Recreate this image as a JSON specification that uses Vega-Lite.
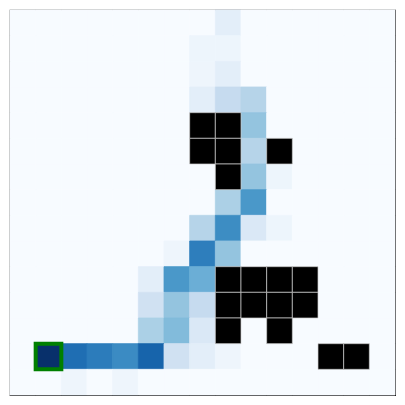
{
  "$schema": "https://vega.github.io/schema/vega-lite/v6.json",
  "width": 385,
  "height": 385,
  "autosize": "none",
  "padding": {"left": 10, "top": 10, "right": 10, "bottom": 10},
  "background": "white",
  "config": {"view": {"stroke": "black", "strokeWidth": 1.2, "fill": "#f7fbff"}},
  "data": {"values": [
    {"r":0,"c":0,"v":0,"k":"f"},{"r":0,"c":1,"v":0,"k":"f"},{"r":0,"c":2,"v":0,"k":"f"},{"r":0,"c":3,"v":0,"k":"f"},{"r":0,"c":4,"v":0,"k":"f"},{"r":0,"c":5,"v":0,"k":"f"},{"r":0,"c":6,"v":0,"k":"f"},{"r":0,"c":7,"v":0,"k":"f"},{"r":0,"c":8,"v":0.1,"k":"f"},{"r":0,"c":9,"v":0,"k":"f"},{"r":0,"c":10,"v":0,"k":"f"},{"r":0,"c":11,"v":0,"k":"f"},{"r":0,"c":12,"v":0,"k":"f"},{"r":0,"c":13,"v":0,"k":"f"},{"r":0,"c":14,"v":0,"k":"f"},
    {"r":1,"c":0,"v":0,"k":"f"},{"r":1,"c":1,"v":0,"k":"f"},{"r":1,"c":2,"v":0,"k":"f"},{"r":1,"c":3,"v":0,"k":"f"},{"r":1,"c":4,"v":0,"k":"f"},{"r":1,"c":5,"v":0,"k":"f"},{"r":1,"c":6,"v":0,"k":"f"},{"r":1,"c":7,"v":0.05,"k":"f"},{"r":1,"c":8,"v":0.05,"k":"f"},{"r":1,"c":9,"v":0,"k":"f"},{"r":1,"c":10,"v":0,"k":"f"},{"r":1,"c":11,"v":0,"k":"f"},{"r":1,"c":12,"v":0,"k":"f"},{"r":1,"c":13,"v":0,"k":"f"},{"r":1,"c":14,"v":0,"k":"f"},
    {"r":2,"c":0,"v":0,"k":"f"},{"r":2,"c":1,"v":0,"k":"f"},{"r":2,"c":2,"v":0,"k":"f"},{"r":2,"c":3,"v":0,"k":"f"},{"r":2,"c":4,"v":0,"k":"f"},{"r":2,"c":5,"v":0,"k":"f"},{"r":2,"c":6,"v":0,"k":"f"},{"r":2,"c":7,"v":0.045,"k":"f"},{"r":2,"c":8,"v":0.1,"k":"f"},{"r":2,"c":9,"v":0,"k":"f"},{"r":2,"c":10,"v":0,"k":"f"},{"r":2,"c":11,"v":0,"k":"f"},{"r":2,"c":12,"v":0,"k":"f"},{"r":2,"c":13,"v":0,"k":"f"},{"r":2,"c":14,"v":0,"k":"f"},
    {"r":3,"c":0,"v":0,"k":"f"},{"r":3,"c":1,"v":0,"k":"f"},{"r":3,"c":2,"v":0,"k":"f"},{"r":3,"c":3,"v":0,"k":"f"},{"r":3,"c":4,"v":0,"k":"f"},{"r":3,"c":5,"v":0,"k":"f"},{"r":3,"c":6,"v":0,"k":"f"},{"r":3,"c":7,"v":0.1,"k":"f"},{"r":3,"c":8,"v":0.25,"k":"f"},{"r":3,"c":9,"v":0.3,"k":"f"},{"r":3,"c":10,"v":0,"k":"f"},{"r":3,"c":11,"v":0,"k":"f"},{"r":3,"c":12,"v":0,"k":"f"},{"r":3,"c":13,"v":0,"k":"f"},{"r":3,"c":14,"v":0,"k":"f"},
    {"r":4,"c":0,"v":0,"k":"f"},{"r":4,"c":1,"v":0,"k":"f"},{"r":4,"c":2,"v":0,"k":"f"},{"r":4,"c":3,"v":0,"k":"f"},{"r":4,"c":4,"v":0,"k":"f"},{"r":4,"c":5,"v":0,"k":"f"},{"r":4,"c":6,"v":0,"k":"f"},{"r":4,"c":7,"v":0,"k":"w"},{"r":4,"c":8,"v":0,"k":"w"},{"r":4,"c":9,"v":0.4,"k":"f"},{"r":4,"c":10,"v":0,"k":"f"},{"r":4,"c":11,"v":0,"k":"f"},{"r":4,"c":12,"v":0,"k":"f"},{"r":4,"c":13,"v":0,"k":"f"},{"r":4,"c":14,"v":0,"k":"f"},
    {"r":5,"c":0,"v":0,"k":"f"},{"r":5,"c":1,"v":0,"k":"f"},{"r":5,"c":2,"v":0,"k":"f"},{"r":5,"c":3,"v":0,"k":"f"},{"r":5,"c":4,"v":0,"k":"f"},{"r":5,"c":5,"v":0,"k":"f"},{"r":5,"c":6,"v":0,"k":"f"},{"r":5,"c":7,"v":0,"k":"w"},{"r":5,"c":8,"v":0,"k":"w"},{"r":5,"c":9,"v":0.3,"k":"f"},{"r":5,"c":10,"v":0,"k":"w"},{"r":5,"c":11,"v":0,"k":"f"},{"r":5,"c":12,"v":0,"k":"f"},{"r":5,"c":13,"v":0,"k":"f"},{"r":5,"c":14,"v":0,"k":"f"},
    {"r":6,"c":0,"v":0,"k":"f"},{"r":6,"c":1,"v":0,"k":"f"},{"r":6,"c":2,"v":0,"k":"f"},{"r":6,"c":3,"v":0,"k":"f"},{"r":6,"c":4,"v":0,"k":"f"},{"r":6,"c":5,"v":0,"k":"f"},{"r":6,"c":6,"v":0,"k":"f"},{"r":6,"c":7,"v":0,"k":"f"},{"r":6,"c":8,"v":0,"k":"w"},{"r":6,"c":9,"v":0.4,"k":"f"},{"r":6,"c":10,"v":0.05,"k":"f"},{"r":6,"c":11,"v":0,"k":"f"},{"r":6,"c":12,"v":0,"k":"f"},{"r":6,"c":13,"v":0,"k":"f"},{"r":6,"c":14,"v":0,"k":"f"},
    {"r":7,"c":0,"v":0,"k":"f"},{"r":7,"c":1,"v":0,"k":"f"},{"r":7,"c":2,"v":0,"k":"f"},{"r":7,"c":3,"v":0,"k":"f"},{"r":7,"c":4,"v":0,"k":"f"},{"r":7,"c":5,"v":0,"k":"f"},{"r":7,"c":6,"v":0,"k":"f"},{"r":7,"c":7,"v":0,"k":"f"},{"r":7,"c":8,"v":0.33,"k":"f"},{"r":7,"c":9,"v":0.6,"k":"f"},{"r":7,"c":10,"v":0,"k":"f"},{"r":7,"c":11,"v":0,"k":"f"},{"r":7,"c":12,"v":0,"k":"f"},{"r":7,"c":13,"v":0,"k":"f"},{"r":7,"c":14,"v":0,"k":"f"},
    {"r":8,"c":0,"v":0,"k":"f"},{"r":8,"c":1,"v":0,"k":"f"},{"r":8,"c":2,"v":0,"k":"f"},{"r":8,"c":3,"v":0,"k":"f"},{"r":8,"c":4,"v":0,"k":"f"},{"r":8,"c":5,"v":0,"k":"f"},{"r":8,"c":6,"v":0,"k":"f"},{"r":8,"c":7,"v":0.3,"k":"f"},{"r":8,"c":8,"v":0.645,"k":"f"},{"r":8,"c":9,"v":0.146,"k":"f"},{"r":8,"c":10,"v":0.05,"k":"f"},{"r":8,"c":11,"v":0,"k":"f"},{"r":8,"c":12,"v":0,"k":"f"},{"r":8,"c":13,"v":0,"k":"f"},{"r":8,"c":14,"v":0,"k":"f"},
    {"r":9,"c":0,"v":0,"k":"f"},{"r":9,"c":1,"v":0,"k":"f"},{"r":9,"c":2,"v":0,"k":"f"},{"r":9,"c":3,"v":0,"k":"f"},{"r":9,"c":4,"v":0,"k":"f"},{"r":9,"c":5,"v":0,"k":"f"},{"r":9,"c":6,"v":0.045,"k":"f"},{"r":9,"c":7,"v":0.7,"k":"f"},{"r":9,"c":8,"v":0.4,"k":"f"},{"r":9,"c":9,"v":0,"k":"f"},{"r":9,"c":10,"v":0,"k":"f"},{"r":9,"c":11,"v":0,"k":"f"},{"r":9,"c":12,"v":0,"k":"f"},{"r":9,"c":13,"v":0,"k":"f"},{"r":9,"c":14,"v":0,"k":"f"},
    {"r":10,"c":0,"v":0,"k":"f"},{"r":10,"c":1,"v":0,"k":"f"},{"r":10,"c":2,"v":0,"k":"f"},{"r":10,"c":3,"v":0,"k":"f"},{"r":10,"c":4,"v":0,"k":"f"},{"r":10,"c":5,"v":0.1,"k":"f"},{"r":10,"c":6,"v":0.6,"k":"f"},{"r":10,"c":7,"v":0.5,"k":"f"},{"r":10,"c":8,"v":0,"k":"w"},{"r":10,"c":9,"v":0,"k":"w"},{"r":10,"c":10,"v":0,"k":"w"},{"r":10,"c":11,"v":0,"k":"w"},{"r":10,"c":12,"v":0,"k":"f"},{"r":10,"c":13,"v":0,"k":"f"},{"r":10,"c":14,"v":0,"k":"f"},
    {"r":11,"c":0,"v":0,"k":"f"},{"r":11,"c":1,"v":0,"k":"f"},{"r":11,"c":2,"v":0,"k":"f"},{"r":11,"c":3,"v":0,"k":"f"},{"r":11,"c":4,"v":0,"k":"f"},{"r":11,"c":5,"v":0.2,"k":"f"},{"r":11,"c":6,"v":0.4,"k":"f"},{"r":11,"c":7,"v":0.25,"k":"f"},{"r":11,"c":8,"v":0,"k":"w"},{"r":11,"c":9,"v":0,"k":"w"},{"r":11,"c":10,"v":0,"k":"w"},{"r":11,"c":11,"v":0,"k":"w"},{"r":11,"c":12,"v":0,"k":"f"},{"r":11,"c":13,"v":0,"k":"f"},{"r":11,"c":14,"v":0,"k":"f"},
    {"r":12,"c":0,"v":0,"k":"f"},{"r":12,"c":1,"v":0,"k":"f"},{"r":12,"c":2,"v":0,"k":"f"},{"r":12,"c":3,"v":0,"k":"f"},{"r":12,"c":4,"v":0,"k":"f"},{"r":12,"c":5,"v":0.334,"k":"f"},{"r":12,"c":6,"v":0.444,"k":"f"},{"r":12,"c":7,"v":0.146,"k":"f"},{"r":12,"c":8,"v":0,"k":"w"},{"r":12,"c":9,"v":0,"k":"f"},{"r":12,"c":10,"v":0,"k":"w"},{"r":12,"c":11,"v":0,"k":"f"},{"r":12,"c":12,"v":0,"k":"f"},{"r":12,"c":13,"v":0,"k":"f"},{"r":12,"c":14,"v":0,"k":"f"},
    {"r":13,"c":0,"v":0,"k":"f"},{"r":13,"c":1,"v":1.0,"k":"s"},{"r":13,"c":2,"v":0.76,"k":"f"},{"r":13,"c":3,"v":0.708,"k":"f"},{"r":13,"c":4,"v":0.65,"k":"f"},{"r":13,"c":5,"v":0.8,"k":"f"},{"r":13,"c":6,"v":0.2,"k":"f"},{"r":13,"c":7,"v":0.1,"k":"f"},{"r":13,"c":8,"v":0.045,"k":"f"},{"r":13,"c":9,"v":0,"k":"f"},{"r":13,"c":10,"v":0,"k":"f"},{"r":13,"c":11,"v":0,"k":"f"},{"r":13,"c":12,"v":0,"k":"w"},{"r":13,"c":13,"v":0,"k":"w"},{"r":13,"c":14,"v":0,"k":"f"},
    {"r":14,"c":0,"v":0,"k":"f"},{"r":14,"c":1,"v":0,"k":"f"},{"r":14,"c":2,"v":0.045,"k":"f"},{"r":14,"c":3,"v":0,"k":"f"},{"r":14,"c":4,"v":0.045,"k":"f"},{"r":14,"c":5,"v":0,"k":"f"},{"r":14,"c":6,"v":0,"k":"f"},{"r":14,"c":7,"v":0,"k":"f"},{"r":14,"c":8,"v":0,"k":"f"},{"r":14,"c":9,"v":0,"k":"f"},{"r":14,"c":10,"v":0,"k":"f"},{"r":14,"c":11,"v":0,"k":"f"},{"r":14,"c":12,"v":0,"k":"f"},{"r":14,"c":13,"v":0,"k":"f"},{"r":14,"c":14,"v":0,"k":"f"}
  ]},
  "encoding": {
    "x": {"field": "c", "type": "ordinal", "scale": {"domain": [0,1,2,3,4,5,6,7,8,9,10,11,12,13,14], "paddingInner": 0, "paddingOuter": 0}, "axis": null},
    "y": {"field": "r", "type": "ordinal", "scale": {"domain": [0,1,2,3,4,5,6,7,8,9,10,11,12,13,14], "paddingInner": 0, "paddingOuter": 0}, "axis": null}
  },
  "layer": [
    {
      "transform": [{"filter": "datum.k != 'w'"}],
      "mark": {"type": "rect", "strokeWidth": 0.8},
      "encoding": {
        "fill": {"field": "v", "type": "quantitative", "legend": null,
          "scale": {"domain": [0,0.125,0.25,0.375,0.5,0.625,0.75,0.875,1], "range": ["#f7fbff","#deebf7","#c6dbef","#9ecae1","#6baed6","#4292c6","#2171b5","#08519c","#08306b"], "interpolate": "rgb"}},
        "stroke": {"field": "v", "type": "quantitative", "legend": null,
          "scale": {"domain": [0,0.125,0.25,0.375,0.5,0.625,0.75,0.875,1], "range": ["#f7fbff","#deebf7","#c6dbef","#9ecae1","#6baed6","#4292c6","#2171b5","#08519c","#08306b"], "interpolate": "rgb"}}
      }
    },
    {
      "transform": [{"filter": "datum.k == 'w'"}],
      "mark": {"type": "rect", "fill": "black", "stroke": "#cfcfcf", "strokeWidth": 0.7}
    },
    {
      "transform": [{"filter": "datum.k == 's'"}],
      "mark": {"type": "rect", "fill": null, "stroke": "#008000", "strokeWidth": 4, "x2Offset": -2, "y2Offset": -2}
    }
  ]
}
